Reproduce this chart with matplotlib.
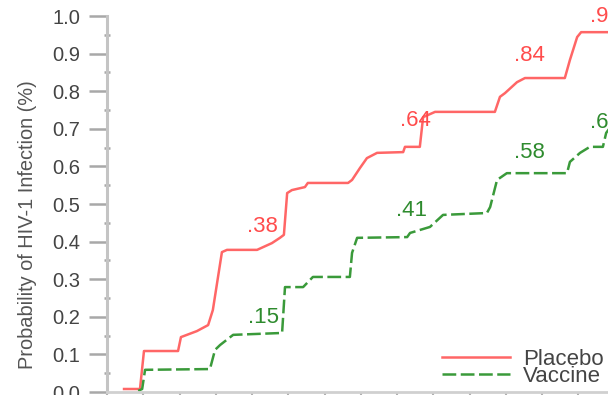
import matplotlib.pyplot as plt
from matplotlib.ticker import MultipleLocator

# cumulative probability curves (x in months, y as probability)
placebo_x = [0.47, 0.91, 1.02, 1.96, 2.04, 2.48, 2.79, 2.92, 3.17, 3.31, 4.14, 4.55,
             4.77, 4.88, 4.97, 5.10, 5.46, 5.54, 6.65, 6.76, 6.98, 7.17, 7.45, 8.17,
             8.22, 8.63, 8.72, 9.05, 10.70, 10.84, 10.98, 11.31, 11.53, 12.63, 12.77,
             12.97, 13.08, 14.01]
placebo_y = [0.008, 0.008, 0.109, 0.109, 0.146, 0.162, 0.178, 0.218, 0.372, 0.378, 0.378, 0.396,
             0.410, 0.418, 0.529, 0.537, 0.545, 0.556, 0.556, 0.564, 0.596, 0.622, 0.636, 0.638,
             0.652, 0.652, 0.731, 0.745, 0.745, 0.785, 0.795, 0.824, 0.835, 0.835, 0.883,
             0.944, 0.957, 0.957]

vaccine_x = [0.86, 0.97, 1.05, 2.84, 2.98, 3.12, 3.48, 4.83, 4.91, 5.41, 5.68, 6.70,
             6.76, 6.90, 8.28, 8.36, 8.91, 9.27, 10.48, 10.57, 10.76, 11.03, 12.69, 12.77,
             13.05, 13.32, 13.68, 13.77, 13.93]
vaccine_y = [0.003, 0.008, 0.059, 0.061, 0.112, 0.125, 0.152, 0.157, 0.279, 0.279, 0.306, 0.306,
             0.370, 0.410, 0.412, 0.423, 0.439, 0.471, 0.476, 0.492, 0.564, 0.582, 0.582, 0.612,
             0.636, 0.652, 0.652, 0.689, 0.710]

# value labels: (text, x, y)
placebo_labels = [(".38", 4.30, 0.439), (".64", 8.52, 0.721), (".84", 11.64, 0.896), (".96", 13.75, 1.0)]
vaccine_labels = [(".15", 4.33, 0.197), (".41", 8.41, 0.484), (".58", 11.64, 0.638), (".66", 13.75, 0.718)]

y_ticks = [0.0, 0.1, 0.2, 0.3, 0.4, 0.5, 0.6, 0.7, 0.8, 0.9, 1.0]

red = "#ff6666"
green = "#3a9a3a"

plt.rcParams['font.family'] = ['Liberation Sans', 'DejaVu Sans']

fig = plt.figure(figsize=(6.08, 3.95), dpi=100)
ax = fig.add_axes([107 / 608, 3 / 395, 580 / 608, 376 / 395])

ax.plot(placebo_x, placebo_y, color=red, lw=1.8, label="Placebo")
ax.plot(vaccine_x, vaccine_y, color=green, lw=1.8, dashes=[5.5, 1.8], label="Vaccine")

for t, x, y in placebo_labels:
    ax.text(x, y, t, color="#ff4c4c", fontsize=16, ha="center", va="center")
for t, x, y in vaccine_labels:
    ax.text(x, y, t, color="#2e8b2e", fontsize=16, ha="center", va="center")

ax.set_xlim(0, 16)
ax.set_ylim(0, 1.0)
ax.set_yticks(y_ticks)
ax.set_yticklabels(["%.1f" % v for v in y_ticks])
ax.yaxis.set_minor_locator(MultipleLocator(0.05))
ax.xaxis.set_major_locator(MultipleLocator(1))

for s in ["top", "right"]:
    ax.spines[s].set_visible(False)
ax.spines["left"].set_color("#c4c4c4")
ax.spines["left"].set_linewidth(2.2)
ax.spines["bottom"].set_color("#d0d0d0")
ax.spines["bottom"].set_linewidth(2)

ax.tick_params(axis="y", which="major", direction="out", length=13, width=1.8,
               color="#a8a8a8", labelsize=14.5, labelcolor="#444444", pad=6)
ax.tick_params(axis="y", which="minor", direction="inout", length=5, width=1.8, color="#a8a8a8")
ax.tick_params(axis="x", which="major", direction="out", length=6, width=1.5,
               color="#b0b0b0", labelbottom=False)

ax.set_ylabel("Probability of HIV-1 Infection (%)", fontsize=14.4, color="#555555")
ax.yaxis.set_label_coords(-0.121, 0.444)

ax.legend(loc="upper left", bbox_to_anchor=(442 / 608, 1 - 349 / 395), bbox_transform=fig.transFigure,
          frameon=False, fontsize=16, handlelength=3.06, handletextpad=0.59, labelspacing=-0.2,
          borderpad=0, borderaxespad=0, labelcolor="#444444")

fig.savefig("out.png", dpi=100)
